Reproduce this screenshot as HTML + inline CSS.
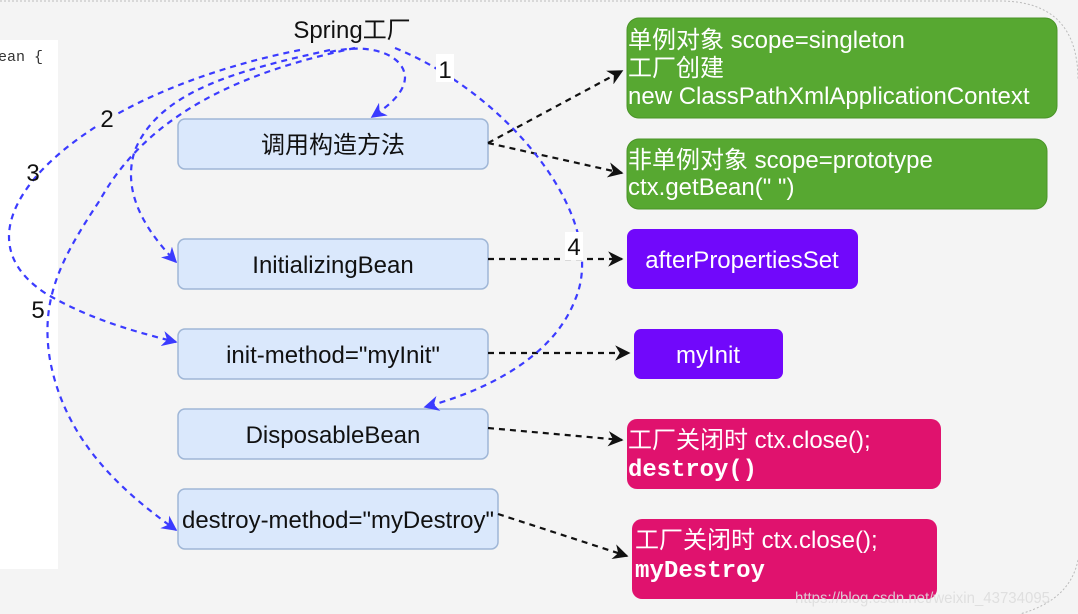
<!DOCTYPE html>
<html><head><meta charset="utf-8"><style>
body{margin:0;width:1078px;height:614px;overflow:hidden;background:#f4f4f4;font-family:"Liberation Sans","Noto Sans CJK SC",sans-serif}
</style></head><body>
<svg width="1078" height="614" xmlns="http://www.w3.org/2000/svg" style="position:absolute;left:0;top:0">
<defs>
<marker id="ab" viewBox="0 0 10 10" refX="9" refY="5" markerWidth="7" markerHeight="7" orient="auto"><path d="M0,0 L10,5 L0,10 L3,5z" fill="#3b3bff"/></marker>
<marker id="ak" viewBox="0 0 10 10" refX="9" refY="5" markerWidth="7" markerHeight="7" orient="auto"><path d="M0,0 L10,5 L0,10 L3,5z" fill="#111"/></marker>
</defs>
<rect x="0" y="0" width="1078" height="614" fill="#f4f4f4"/>
<path d="M0,1 H1000 Q1078,1 1078,80" fill="none" stroke="#bbb" stroke-dasharray="2,2"/>
<path d="M1078,560 Q1070,600 1020,614" fill="none" stroke="#bbb" stroke-dasharray="2,2"/>
<rect x="0" y="40" width="58" height="529" fill="#fff"/>
<text x="-2" y="61" font-family="Liberation Mono,monospace" font-size="15" fill="#333">ean {</text>

<g font-size="24" fill="#111" text-anchor="middle">
<rect x="178" y="119" width="310" height="50" rx="7" fill="#dae8fc" stroke="#9fb6d6" stroke-width="1.5"/>
<text x="333" y="153">调用构造方法</text>
<rect x="178" y="239" width="310" height="50" rx="7" fill="#dae8fc" stroke="#9fb6d6" stroke-width="1.5"/>
<text x="333" y="273">InitializingBean</text>
<rect x="178" y="329" width="310" height="50" rx="7" fill="#dae8fc" stroke="#9fb6d6" stroke-width="1.5"/>
<text x="333" y="363">init-method="myInit"</text>
<rect x="178" y="409" width="310" height="50" rx="7" fill="#dae8fc" stroke="#9fb6d6" stroke-width="1.5"/>
<text x="333" y="443">DisposableBean</text>
<rect x="178" y="489" width="320" height="60" rx="7" fill="#dae8fc" stroke="#9fb6d6" stroke-width="1.5"/>
<text x="338" y="528" textLength="312" lengthAdjust="spacingAndGlyphs">destroy-method="myDestroy"</text>
</g>

<g font-size="24" fill="#fff">
<rect x="627" y="18" width="430" height="100" rx="12" fill="#57a831" stroke="#4a9428"/>
<text x="628" y="48">单例对象 scope=singleton</text>
<text x="628" y="76">工厂创建</text>
<text x="628" y="104">new ClassPathXmlApplicationContext</text>
<rect x="627" y="139" width="420" height="70" rx="12" fill="#57a831" stroke="#4a9428"/>
<text x="628" y="168">非单例对象 scope=prototype</text>
<text x="628" y="195">ctx.getBean("  ")</text>
<rect x="627" y="229" width="231" height="60" rx="8" fill="#7108fb"/>
<text x="742" y="268" text-anchor="middle">afterPropertiesSet</text>
<rect x="634" y="329" width="149" height="50" rx="7" fill="#7108fb"/>
<text x="708" y="363" text-anchor="middle">myInit</text>
<rect x="627" y="419" width="314" height="70" rx="10" fill="#e0126e"/>
<text x="628" y="448">工厂关闭时 ctx.close();</text>
<text x="628" y="476" font-family="Liberation Mono,monospace" font-size="24" font-weight="bold" textLength="129" lengthAdjust="spacingAndGlyphs">destroy()</text>
<rect x="632" y="519" width="305" height="80" rx="10" fill="#e0126e"/>
<text x="635" y="548">工厂关闭时 ctx.close();</text>
<text x="635" y="577" font-family="Liberation Mono,monospace" font-size="24" font-weight="bold" textLength="130" lengthAdjust="spacingAndGlyphs">myDestroy</text>
</g>
<text x="795" y="603" font-size="16" fill="#ddd" opacity="0.9" textLength="255" lengthAdjust="spacingAndGlyphs">https://blog.csdn.net/weixin_43734095</text>

<g fill="none" stroke="#111" stroke-width="2.2" stroke-dasharray="6,5" marker-end="url(#ak)">
<path d="M488,143 L622,71"/>
<path d="M488,143 L622,173"/>
<path d="M488,259 L622,259"/>
<path d="M488,353 L629,353"/>
<path d="M488,428 L622,440"/>
<path d="M498,514 L627,556"/>
</g>

<g fill="none" stroke="#3b3bff" stroke-width="2.2" stroke-dasharray="6,5" marker-end="url(#ab)">
<path d="M330,52 C370,42 405,55 405,78 C404,95 385,108 372,117"/>
<path d="M395,48 C510,95 610,220 575,300 C550,365 470,395 425,407"/>
<path d="M330,50 C240,70 160,90 135,150 C120,195 150,235 176,262"/>
<path d="M300,50 C200,70 100,110 42,170 C0,215 -5,260 45,293 C90,320 140,333 176,342"/>
<path d="M355,48 C250,70 150,110 100,200 C60,260 40,300 50,360 C65,440 120,490 176,530"/>
</g>
<g font-size="24" fill="#111" text-anchor="middle">
<rect x="436" y="54" width="18" height="28" fill="#fff"/><text x="445" y="78">1</text>
<rect x="98" y="104" width="18" height="28" fill="#f4f4f4"/><text x="107" y="127">2</text>
<text x="33" y="181">3</text>
<rect x="565" y="232" width="18" height="28" fill="#fff"/><text x="574" y="255">4</text>
<text x="38" y="318">5</text>
</g>
<text x="352" y="38" font-size="24" fill="#111" text-anchor="middle">Spring工厂</text>
</svg>
</body></html>
